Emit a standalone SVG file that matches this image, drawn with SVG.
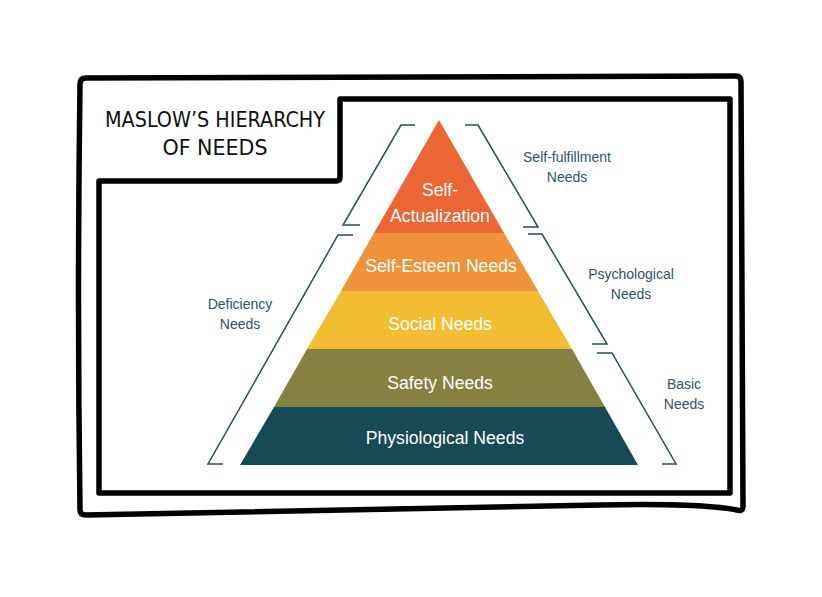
<svg xmlns="http://www.w3.org/2000/svg" width="822" height="597" viewBox="0 0 822 597">
<style>
.frame{fill:none;stroke:#000;stroke-width:5.5;stroke-linejoin:round;stroke-linecap:round}
.title{font-family:"DejaVu Sans Condensed","Liberation Sans Narrow","DejaVu Sans",sans-serif;font-size:21px;fill:#111;text-anchor:middle}
.lvl{font-family:"Liberation Sans",Arial,sans-serif;font-size:17.6px;fill:#fff;text-anchor:middle}
.lbl{font-family:"Liberation Sans",Arial,sans-serif;font-size:14px;fill:#2b5563;text-anchor:middle}
.br{fill:none;stroke:#234f5c;stroke-width:1.5;stroke-linejoin:miter}
</style>
<rect width="822" height="597" fill="#fff"/>
<g id="outer-frame">
<path d="M80,84 Q80,78 86,78 L736,76 Q741,76 741,82 L743,506 Q743,512 737,510 Q700,503 600,505 L86,515 Q80,515 80,510 Q77,300 80,84 Z" fill="#fefcfd" class="frame"/>
</g>
<g id="inner-frame">
<path d="M340,99 L730,99 L730,493 L99,493 L99,181 L336,181 Q340,181 340,177 Z" fill="#fff" class="frame"/>
</g>
<g id="title">
<text class="title" x="215" y="127" textLength="220" lengthAdjust="spacingAndGlyphs">MASLOW’S HIERARCHY</text>
<text class="title" x="215" y="155" textLength="105" lengthAdjust="spacingAndGlyphs">OF NEEDS</text>
</g>
<g id="self-actualization">
<polygon points="439,120 504,233 374,233" fill="#eb6535"/>
<text class="lvl" x="440" y="196">Self-</text>
<text class="lvl" x="440" y="222">Actualization</text>
</g>
<g id="self-esteem">
<polygon points="374,233 504,233 538,291 341,291" fill="#f0923a"/>
<text class="lvl" x="441" y="272">Self-Esteem Needs</text>
</g>
<g id="social">
<polygon points="341,291 538,291 572,349 307,349" fill="#f3bc33"/>
<text class="lvl" x="440" y="330">Social Needs</text>
</g>
<g id="safety">
<polygon points="307,349 572,349 605,407 274,407" fill="#868143"/>
<text class="lvl" x="440" y="389">Safety Needs</text>
</g>
<g id="physiological">
<polygon points="274,407 605,407 638,465 240,465" fill="#174a56"/>
<text class="lvl" x="445" y="444">Physiological Needs</text>
</g>
<g id="connectors">
<polyline class="br" points="415,125 401,125 343,225 360,225"/>
<polyline class="br" points="465,125 478,125 538,227 523,227"/>
<polyline class="br" points="353,235 338,235 208,464 223,464"/>
<polyline class="br" points="528,234 542,234 607,344 592,344"/>
<polyline class="br" points="597,353 612,353 676,464 662,464"/>
</g>
<g id="label-self-fulfillment">
<text class="lbl" x="567" y="162">Self-fulfillment</text>
<text class="lbl" x="567" y="182">Needs</text>
</g>
<g id="label-psychological">
<text class="lbl" x="631" y="279">Psychological</text>
<text class="lbl" x="631" y="299">Needs</text>
</g>
<g id="label-basic">
<text class="lbl" x="684" y="389">Basic</text>
<text class="lbl" x="684" y="409">Needs</text>
</g>
<g id="label-deficiency">
<text class="lbl" x="240" y="309">Deficiency</text>
<text class="lbl" x="240" y="329">Needs</text>
</g>
</svg>
